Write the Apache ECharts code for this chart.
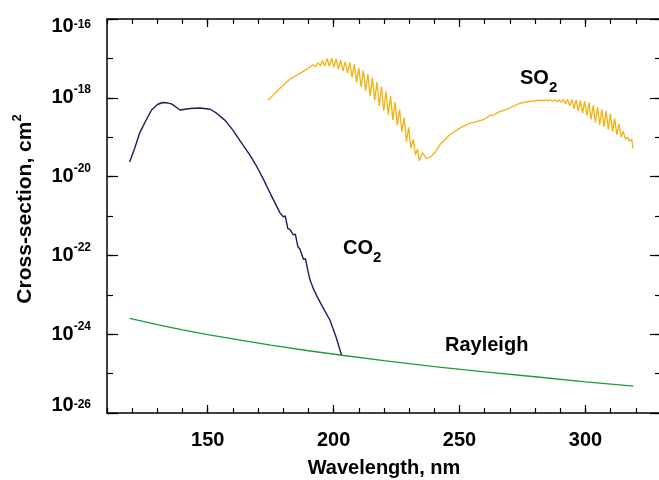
<!DOCTYPE html>
<html>
<head>
<meta charset="utf-8">
<style>
  html, body { margin: 0; padding: 0; background: #fff; }
  #chart { width: 659px; height: 480px; }
</style>
<script src="https://cdn.jsdelivr.net/npm/echarts@6/dist/echarts.min.js"></script>
</head>
<body>
<div id="chart"></div>
<script>
// Absorption cross-sections (cm^2) versus wavelength (nm)

// Rayleigh scattering
const rayleighWavelength = [119, 130, 140, 150, 160, 175, 190, 204, 220, 240, 260, 280, 300, 319];
const rayleighSigma = [2.51e-24, 1.74e-24, 1.29e-24, 9.77e-25, 7.59e-25, 5.25e-25, 3.80e-25, 2.88e-25,
  2.14e-25, 1.51e-25, 1.10e-25, 8.32e-26, 6.17e-26, 4.79e-26];

// CO2
const co2Wavelength = [119, 121, 123, 125.5, 127.7, 130, 132.2, 134, 135.8, 137.5, 139, 141, 143, 147,
  151, 153.5, 157, 160, 164, 166.7, 169.5, 172, 175, 178.7, 180, 180.8, 181.8, 182.6, 184, 184.8,
  185.8, 186.6, 188, 188.8, 189.8, 190.6, 192, 193.7, 196, 198.5, 201, 203.1];
const co2Sigma = [2.34e-20, 5.25e-20, 1.29e-19, 2.69e-19, 4.90e-19, 6.76e-19, 7.59e-19, 7.41e-19,
  6.92e-19, 5.75e-19, 4.90e-19, 5.13e-19, 5.37e-19, 5.50e-19, 5.13e-19, 4.07e-19, 2.63e-19,
  1.51e-19, 6.31e-20, 3.55e-20, 1.78e-20, 8.91e-21, 3.55e-21, 1.20e-21, 9.55e-22, 1.00e-21,
  4.79e-22, 4.57e-22, 3.31e-22, 3.47e-22, 1.66e-22, 1.45e-22, 7.94e-23, 8.32e-23, 3.98e-23,
  2.40e-23, 1.41e-23, 8.32e-24, 4.47e-24, 2.29e-24, 8.32e-25, 3.0e-25];

// SO2
const so2Wavelength = [174.0, 176.0, 178.7, 182.6, 186.6, 189.2, 191.0,
  192.0, 192.9, 193.8, 194.7, 195.6, 196.5, 197.4, 198.3, 199.2, 200.1,
  201.0, 201.9, 202.8, 203.7, 204.6, 205.5, 206.4, 207.3, 208.2, 209.1,
  210.0, 210.9, 211.8, 212.7, 213.6, 214.5, 215.4, 216.3, 217.2, 218.1,
  219.0, 219.9, 220.8, 221.7, 222.6, 223.5, 224.4, 225.3, 226.2, 227.1,
  228.0, 228.9, 229.8, 230.7, 231.6, 232.5, 233.3, 234.0,
  235.3, 236.8, 238.5, 240.5, 242.1, 246.1, 250.1, 254.0, 259.2, 261.0,
  262.0, 263.2, 265.9, 268.0, 269.9, 273.9, 277.0, 280.0,
  281.0, 281.85, 282.7, 283.55, 284.4, 285.25, 286.1, 286.95, 287.8, 288.65,
  289.5, 290.35, 291.2, 292.05, 292.9, 293.75, 294.6, 295.45, 296.3, 297.15,
  298.0, 298.85, 299.7, 300.55, 301.4, 302.25, 303.1, 303.95, 304.8, 305.65,
  306.5, 307.35, 308.2, 309.05, 309.9, 310.75, 311.6, 312.45, 313.3, 314.15,
  315.0, 315.85, 316.7, 317.55, 318.4, 318.8];
const so2Sigma = [8.71e-19, 1.17e-18, 1.74e-18, 2.95e-18, 4.17e-18, 5.25e-18, 6.31e-18,
  6.92e-18, 6.17e-18, 7.76e-18, 6.46e-18, 8.71e-18, 6.46e-18, 9.77e-18, 6.31e-18, 1.02e-17, 5.89e-18,
  9.77e-18, 5.37e-18, 8.91e-18, 4.79e-18, 8.32e-18, 4.27e-18, 7.94e-18, 3.31e-18, 7.08e-18, 2.45e-18,
  5.75e-18, 1.91e-18, 5.01e-18, 1.48e-18, 3.98e-18, 1.12e-18, 3.24e-18, 8.51e-19, 2.51e-18, 6.17e-19,
  1.91e-18, 4.68e-19, 1.45e-18, 3.72e-19, 1.10e-18, 2.75e-19, 7.76e-19, 2.00e-19, 5.13e-19, 1.38e-19,
  3.16e-19, 7.59e-20, 1.78e-19, 5.25e-20, 8.91e-20, 3.55e-20, 5.01e-20, 2.51e-20,
  4.07e-20, 2.88e-20, 3.16e-20, 4.27e-20, 6.31e-20, 1.15e-19, 1.70e-19, 2.24e-19, 2.75e-19, 3.16e-19,
  3.63e-19, 3.55e-19, 4.47e-19, 4.90e-19, 5.50e-19, 7.24e-19, 7.94e-19, 8.51e-19,
  8.71e-19, 8.32e-19, 8.71e-19, 8.32e-19, 8.91e-19, 8.32e-19, 8.91e-19, 8.13e-19, 8.91e-19, 7.94e-19,
  8.91e-19, 7.76e-19, 9.12e-19, 7.08e-19, 9.12e-19, 6.31e-19, 9.12e-19, 5.25e-19, 8.91e-19, 4.68e-19,
  8.51e-19, 4.07e-19, 8.13e-19, 3.55e-19, 7.59e-19, 2.82e-19, 6.46e-19, 2.34e-19, 5.75e-19, 2.04e-19,
  5.13e-19, 1.82e-19, 4.57e-19, 1.58e-19, 3.89e-19, 1.38e-19, 2.95e-19, 1.15e-19, 2.19e-19, 1.00e-19,
  1.41e-19, 8.91e-20, 1.00e-19, 7.94e-20, 8.91e-20, 5.25e-20];

// Axis ticks
const wavelengthMajorTicks = [150, 200, 250, 300];
const wavelengthMinorTicks = [110, 120, 130, 140, 150, 160, 170, 180, 190, 200, 210, 220, 230,
  240, 250, 260, 270, 280, 290, 300, 310, 320, 330];
const sigmaMajorTicks = [1e-26, 1e-24, 1e-22, 1e-20, 1e-18, 1e-16];
const sigmaMinorTicks = [1e-26, 1e-25, 1e-24, 1e-23, 1e-22, 1e-21, 1e-20, 1e-19, 1e-18, 1e-17, 1e-16];

const FONT = '"Liberation Sans", Arial, Helvetica, sans-serif';
const AXIS_COLOR = '#333';
const PLOT_RECT = { left: 107, top: 19, width: 554, height: 394,
  containLabel: false, outerBoundsMode: 'none' };

const pairs = (xs, ys) => xs.map((x, i) => [x, ys[i]]);

function xAxisDef(gridIndex, position, ticks, len, withLabels) {
  return {
    gridIndex, type: 'value', position, min: 110, max: 330, offset: 0,
    axisLine: { show: true, onZero: false, lineStyle: { color: AXIS_COLOR, width: 1.5 } },
    axisTick: { show: true, inside: true, length: len, customValues: ticks,
      lineStyle: { color: '#000', width: 1.2 } },
    axisLabel: withLabels ? {
      show: true, customValues: ticks, margin: 17,
      fontFamily: FONT, fontWeight: 'bold', fontSize: 20, color: '#000'
    } : { show: false },
    splitLine: { show: false },
    name: withLabels ? 'Wavelength, nm' : '',
    nameLocation: 'middle', nameGap: 45,
    nameTextStyle: { fontFamily: FONT, fontWeight: 'bold', fontSize: 20, color: '#000' }
  };
}

function expLabel(value) {
  const e = Math.round(Math.log10(value));
  if (e === -16) return '{bt|10}{et|' + e + '}';
  if (e === -26) return '{bb|10}{eb|' + e + '}';
  return '{b|10}{e|' + e + '}';
}

const baseStyle = { fontFamily: FONT, fontWeight: 'bold', fontSize: 20, color: '#000',
  verticalAlign: 'middle', lineHeight: 28 };
const expStyle = { fontFamily: FONT, fontWeight: 'bold', fontSize: 12, color: '#000',
  verticalAlign: 'top', lineHeight: 12 };

function yAxisDef(gridIndex, position, ticks, len, withLabels) {
  return {
    gridIndex, type: 'log', logBase: 10, position, min: 1e-26, max: 1e-16, offset: 0,
    axisLine: { show: true, onZero: false, lineStyle: { color: AXIS_COLOR, width: 1.5 } },
    axisTick: { show: true, inside: true, length: len, customValues: ticks,
      lineStyle: { color: '#000', width: 1.2 } },
    axisLabel: withLabels ? {
      show: true, customValues: ticks, margin: 16, formatter: expLabel,
      rich: {
        b: baseStyle, e: expStyle,
        bt: Object.assign({}, baseStyle, { padding: [14, 0, 0, 0] }),
        et: Object.assign({}, expStyle, { padding: [14, 0, 0, 0] }),
        bb: Object.assign({}, baseStyle, { padding: [0, 0, 16, 0] }),
        eb: expStyle
      }
    } : { show: false },
    splitLine: { show: false },
    name: withLabels ? '{t|Cross-section, cm}{s|2}' : '',
    nameLocation: 'middle', nameGap: 68, nameRotate: 90,
    nameTextStyle: {
      padding: [0, 0, 0, 14],
      rich: {
        t: { fontFamily: FONT, fontWeight: 'bold', fontSize: 21, color: '#000',
          verticalAlign: 'middle', lineHeight: 28 },
        s: { fontFamily: FONT, fontWeight: 'bold', fontSize: 13, color: '#000',
          verticalAlign: 'top', lineHeight: 13 }
      }
    }
  };
}

const chart = echarts.init(document.getElementById('chart'), null, { renderer: 'canvas' });

const textStyle = (text, size) => ({
  text, fill: '#000', font: 'bold ' + size + 'px ' + FONT, align: 'left', verticalAlign: 'top'
});

chart.setOption({
  animation: false,
  backgroundColor: '#fff',
  // grid 0 carries the data and the long ticks, grid 1 (same frame) the short ticks
  grid: [Object.assign({}, PLOT_RECT), Object.assign({}, PLOT_RECT)],
  xAxis: [
    xAxisDef(0, 'bottom', wavelengthMajorTicks, 8, true),
    xAxisDef(0, 'top', wavelengthMajorTicks, 8, false),
    xAxisDef(1, 'bottom', wavelengthMinorTicks, 5, false),
    xAxisDef(1, 'top', wavelengthMinorTicks, 5, false)
  ],
  yAxis: [
    yAxisDef(0, 'left', sigmaMajorTicks, 11, true),
    yAxisDef(0, 'right', sigmaMajorTicks, 11, false),
    yAxisDef(1, 'left', sigmaMinorTicks, 6, false),
    yAxisDef(1, 'right', sigmaMinorTicks, 6, false)
  ],
  series: [
    { name: 'Rayleigh', type: 'line', xAxisIndex: 0, yAxisIndex: 0,
      data: pairs(rayleighWavelength, rayleighSigma),
      showSymbol: false, lineStyle: { color: '#1f9a3b', width: 1.3 } },
    { name: 'CO2', type: 'line', xAxisIndex: 0, yAxisIndex: 0,
      data: pairs(co2Wavelength, co2Sigma),
      showSymbol: false, lineStyle: { color: '#1b1b5e', width: 1.4 } },
    { name: 'SO2', type: 'line', xAxisIndex: 0, yAxisIndex: 0,
      data: pairs(so2Wavelength, so2Sigma),
      showSymbol: false, lineStyle: { color: '#f2b20f', width: 1.3 } }
  ],
  graphic: [
    { type: 'text', x: 520, y: 68, style: textStyle('SO', 20) },
    { type: 'text', x: 549, y: 80, style: textStyle('2', 15) },
    { type: 'text', x: 343, y: 238, style: textStyle('CO', 20) },
    { type: 'text', x: 373, y: 250, style: textStyle('2', 15) },
    { type: 'text', x: 445, y: 335, style: textStyle('Rayleigh', 20) }
  ]
});
</script>
</body>
</html>
